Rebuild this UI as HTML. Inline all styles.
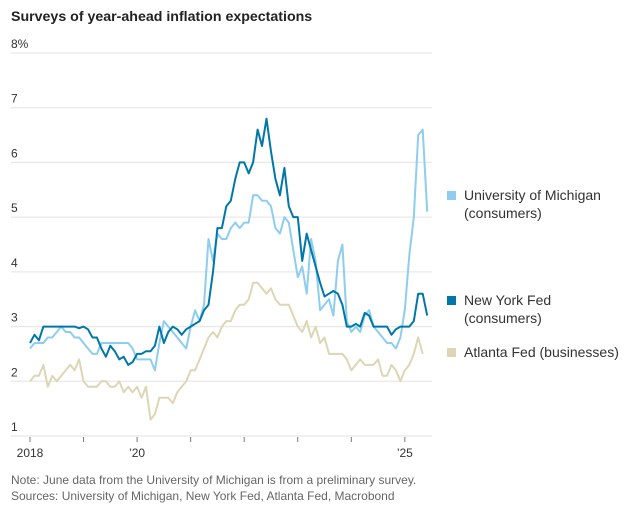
<!DOCTYPE html>
<html><head><meta charset="utf-8">
<style>
body{margin:0;background:#fff;font-family:"Liberation Sans",sans-serif;}
svg text{font-family:"Liberation Sans",sans-serif;}
</style></head>
<body>
<svg id="chart" width="641" height="509" viewBox="0 0 641 509">
<text x="11" y="21" font-size="14.2" font-weight="bold" fill="#222">Surveys of year-ahead inflation expectations</text>
<g id="grid"></g>
<g id="xaxis"></g>
<g id="series"></g>
<g>
<rect x="447" y="191" width="9" height="9" fill="#8ecdf0"/>
<text x="464" y="200" font-size="14" fill="#333">University of Michigan</text>
<text x="464" y="218" font-size="14" fill="#333">(consumers)</text>
<rect x="447" y="296" width="9" height="9" fill="#0077a8"/>
<text x="464" y="305" font-size="14" fill="#333">New York Fed</text>
<text x="464" y="323" font-size="14" fill="#333">(consumers)</text>
<rect x="447" y="348" width="9" height="9" fill="#ddd6b4"/>
<text x="464" y="357" font-size="14" fill="#333">Atlanta Fed (businesses)</text>
</g>
<text x="11" y="484" font-size="12" fill="#666">Note: June data from the University of Michigan is from a preliminary survey.</text>
<text x="11" y="500" font-size="12" fill="#666">Sources: University of Michigan, New York Fed, Atlanta Fed, Macrobond</text>
</svg>
<script>
const yTicks=[1,2,3,4,5,6,7,8];
const yTickLabels=["1","2","3","4","5","6","7","8%"];
const xTickYears=[2018,2019,2020,2021,2022,2023,2024,2025];
const xTickLabels=["2018","","’20","","","","","’25"];
const michigan=[2.6,2.7,2.7,2.7,2.8,2.8,2.9,3.0,2.9,2.9,2.8,2.8,
2.7,2.6,2.5,2.5,2.7,2.7,2.7,2.7,2.7,2.7,2.7,2.6,
2.4,2.4,2.4,2.4,2.2,2.7,3.1,3.0,2.9,2.8,2.7,2.6,
3.0,3.3,3.1,3.4,4.6,4.2,4.7,4.6,4.6,4.8,4.9,4.8,
4.9,4.9,5.4,5.4,5.3,5.3,5.2,4.8,4.7,5.0,4.9,4.4,
3.9,4.1,3.6,4.6,4.2,3.3,3.4,3.5,3.2,4.2,4.5,3.1,
2.9,3.0,2.9,3.2,3.3,3.0,2.9,2.8,2.7,2.7,2.6,2.8,
3.3,4.3,5.0,6.5,6.6,5.1];
const nyfed=[2.7,2.85,2.75,3.0,3.0,3.0,3.0,3.0,3.0,3.0,3.0,2.97,
3.0,2.95,2.8,2.8,2.6,2.45,2.65,2.55,2.4,2.45,2.3,2.35,
2.5,2.5,2.55,2.55,2.65,3.0,2.7,2.9,3.0,2.95,2.85,2.95,
3.0,3.05,3.1,3.3,3.4,4.0,4.8,4.8,5.2,5.3,5.7,6.0,
6.0,5.8,6.0,6.6,6.3,6.8,6.2,5.7,5.4,5.9,5.2,5.0,
5.0,4.2,4.7,4.4,4.1,3.8,3.55,3.6,3.65,3.6,3.4,3.0,
3.0,3.05,3.0,3.25,3.2,3.0,3.0,3.0,3.0,2.85,2.95,3.0,
3.0,3.0,3.1,3.6,3.6,3.2];
const atlanta=[2.0,2.1,2.1,2.3,1.9,2.1,2.0,2.1,2.2,2.3,2.2,2.4,
2.0,1.9,1.9,1.9,2.0,2.0,1.9,1.9,2.0,1.8,1.9,1.8,
1.9,1.7,1.9,1.3,1.4,1.7,1.7,1.7,1.6,1.8,1.9,2.0,
2.2,2.2,2.4,2.6,2.8,2.9,2.8,3.0,3.1,3.1,3.3,3.4,
3.4,3.5,3.8,3.8,3.7,3.6,3.7,3.5,3.4,3.4,3.4,3.2,
3.0,2.9,3.1,2.8,3.0,2.7,2.8,2.5,2.5,2.5,2.5,2.4,
2.2,2.3,2.4,2.3,2.3,2.3,2.4,2.1,2.1,2.3,2.2,2.0,
2.2,2.3,2.5,2.8,2.5];

const NS='http://www.w3.org/2000/svg';
function yScale(v){return 436-(v-1)*(436-53)/7;}
function xScale(m){return 30+m*53.55/12;}
function mk(tag,attrs,parent){const e=document.createElementNS(NS,tag);for(const k in attrs)e.setAttribute(k,attrs[k]);parent.appendChild(e);return e;}
const grid=document.getElementById('grid');
yTicks.forEach((t,i)=>{
  const y=yScale(t);
  const l=mk('line',{x1:11,x2:432,y1:y,y2:y,stroke:'#e8e8e8','stroke-width':1.3},grid);
  
  
  const tx=mk('text',{x:11,y:y-5,'font-size':12,fill:'#333'},grid);
  tx.textContent=yTickLabels[i];
  
  
});
const xa=document.getElementById('xaxis');
xTickYears.forEach((yr,i)=>{
  const x=xScale((yr-2018)*12);
  const tk=mk('line',{x1:x,x2:x,y1:437,y2:442,stroke:'#777','stroke-width':1},xa);
  
  
  if(xTickLabels[i]){
    const tx=mk('text',{x:x,y:457,'font-size':12,fill:'#333','text-anchor':'middle'},xa);
    tx.textContent=xTickLabels[i];
    
    
  }
});
const sg=document.getElementById('series');
function line(data,color,name){
  const d=data.map((v,i)=>(i?'L':'M')+xScale(i).toFixed(1)+','+yScale(v).toFixed(1)).join('');
  const p=mk('path',{d:d,fill:'none',stroke:color,'stroke-width':2,'stroke-linejoin':'round'},sg);
  
  
}
line(atlanta,'#ddd6b4','atlanta-fed-line');
line(michigan,'#8ecdf0','michigan-line');
line(nyfed,'#0077a8','ny-fed-line');
</script>
</body></html>
